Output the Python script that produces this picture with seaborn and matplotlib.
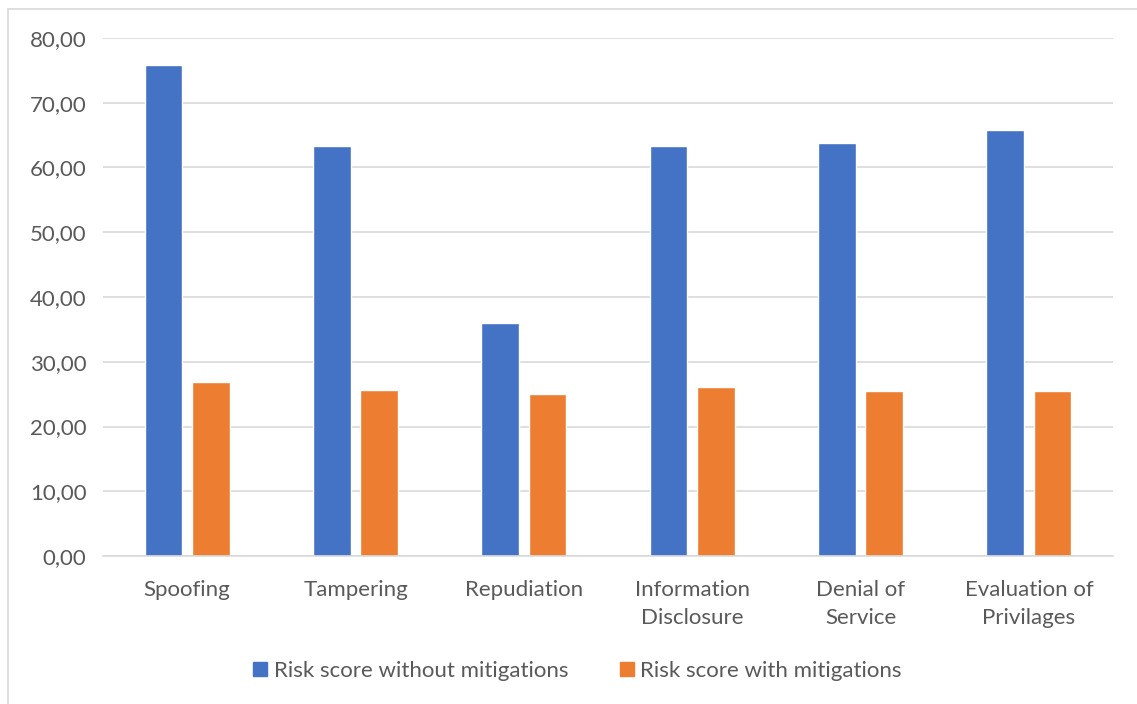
import matplotlib
matplotlib.use("Agg")
import matplotlib.pyplot as plt
from matplotlib.ticker import FuncFormatter, MultipleLocator
from matplotlib.lines import Line2D
import seaborn as sns
import pandas as pd

categories = ["Spoofing", "Tampering", "Repudiation", "Information\nDisclosure",
              "Denial of\nService", "Evaluation of\nPrivilages"]
without_mitigations = [75.9, 63.3, 36.0, 63.3, 63.8, 65.8]
with_mitigations = [26.9, 25.6, 25.0, 26.1, 25.5, 25.5]
series_names = ["Risk score without mitigations", "Risk score with mitigations"]
colors = ["#4472C4", "#ED7D31"]

df = pd.DataFrame({
    "category": categories * 2,
    "value": without_mitigations + with_mitigations,
    "series": [series_names[0]] * len(categories) + [series_names[1]] * len(categories),
})

sns.set_theme(style="white")
plt.rcParams["font.family"] = ["Lato", "DejaVu Sans"]

W, H = 1137, 704
fig = plt.figure(figsize=(W / 100, H / 100), dpi=100)
ax = fig.add_axes([103 / W, 1 - 556 / H, (1113 - 103) / W, (556 - 38) / H])

sns.barplot(data=df, x="category", y="value", hue="series", order=categories,
            hue_order=series_names, palette=colors, width=0.565, gap=0.21,
            saturation=1, ax=ax, legend=False)

ax.set_ylim(0, 80)
ax.set_xlim(-0.5, len(categories) - 0.5)
ax.yaxis.set_major_locator(MultipleLocator(10))
ax.yaxis.set_major_formatter(FuncFormatter(lambda v, p: f"{v:.2f}".replace(".", ",")))
ax.grid(axis="y", color="#D9D9D9", linewidth=1.2)
ax.set_axisbelow(True)
for s in ["top", "right", "left"]:
    ax.spines[s].set_visible(False)
ax.spines["bottom"].set_color("#D9D9D9")
ax.spines["bottom"].set_linewidth(1.2)
ax.tick_params(axis="both", length=0, labelsize=16, labelcolor="#595959")
ax.tick_params(axis="y", pad=12)
ax.tick_params(axis="x", pad=17)
for t in ax.get_xticklabels():
    t.set_linespacing(1.55)
ax.set_xlabel("")
ax.set_ylabel("")

handles = [Line2D([0], [0], marker="s", linestyle="none", markersize=10.5,
                  markerfacecolor=c, markeredgecolor=c) for c in colors]
fig.legend(handles, series_names, loc="center", bbox_to_anchor=(576 / W, 1 - 671 / H),
           ncol=2, frameon=False, fontsize=16, labelcolor="#595959",
           handletextpad=0.15, columnspacing=2.2, handlelength=0.9)

# outer chart border (left and top edges visible)
fig.add_artist(Line2D([8 / W, 8 / W], [0, 1 - 9 / H], transform=fig.transFigure,
                      color="#D9D9D9", linewidth=1.2))
fig.add_artist(Line2D([8 / W, 1], [1 - 9 / H, 1 - 9 / H], transform=fig.transFigure,
                      color="#D9D9D9", linewidth=1.2))

fig.savefig("out.png", dpi=100, facecolor="white")
